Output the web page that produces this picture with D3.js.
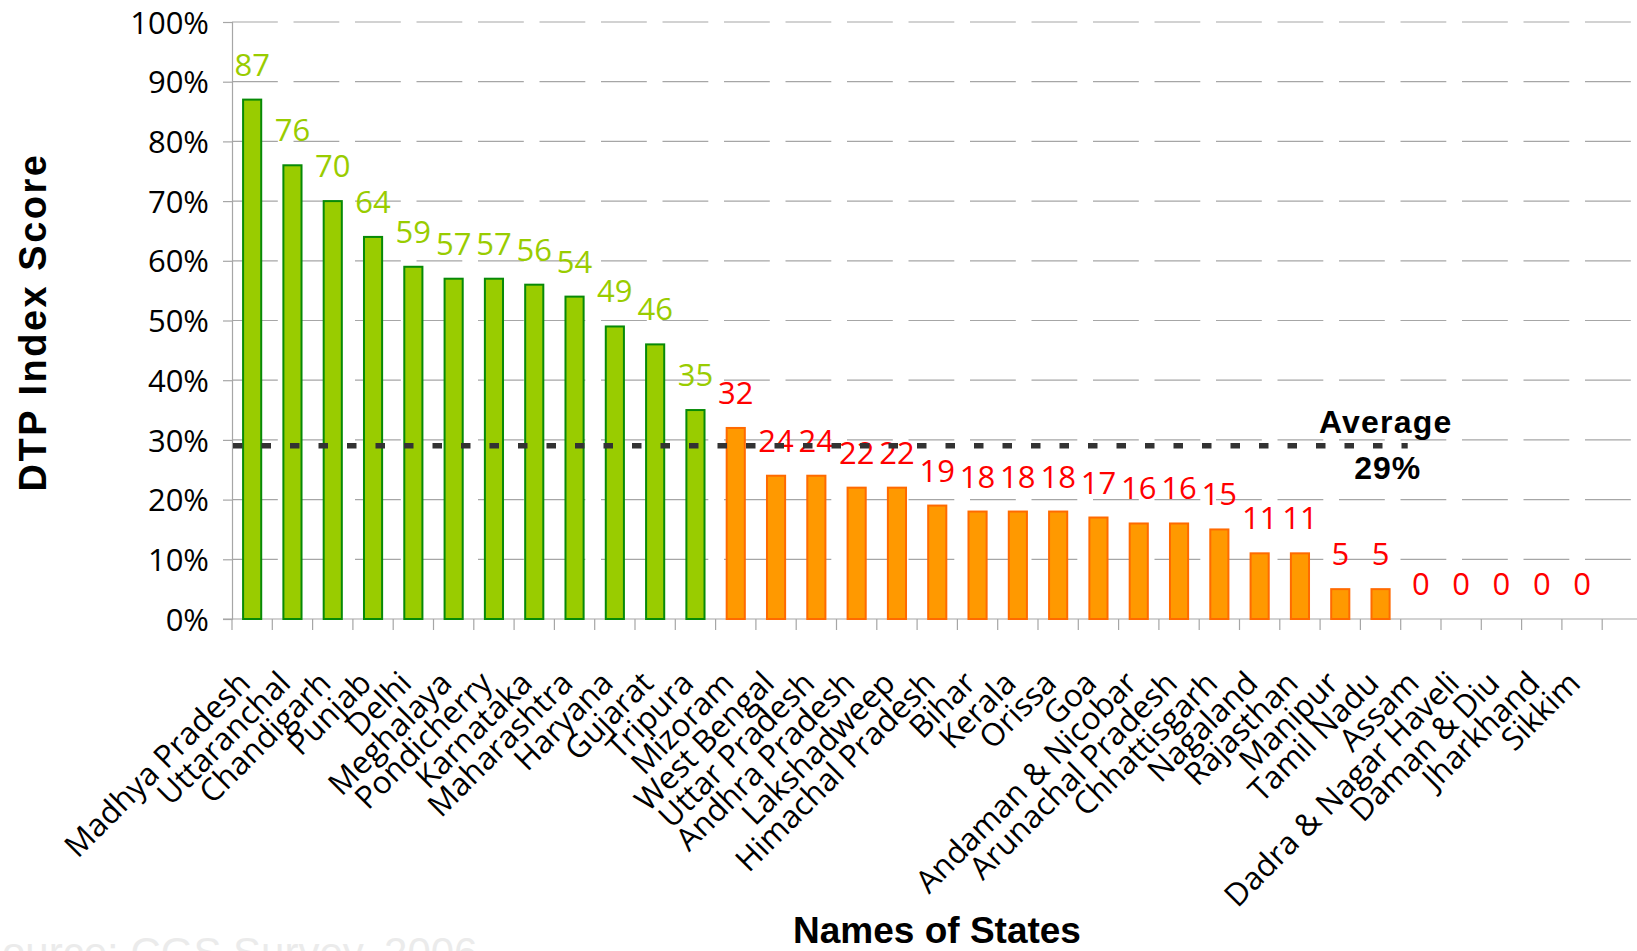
<!DOCTYPE html>
<html>
<head>
<meta charset="utf-8">
<script src="https://cdn.jsdelivr.net/npm/d3@7"></script>
<style>
  html, body { margin: 0; padding: 0; background: #fff; }
  svg { display: block; }
</style>
</head>
<body>
<svg id="chart" width="1637" height="951"></svg>
<script>
// States ranked by DTP index score
const states = [
  "Madhya Pradesh", "Uttaranchal", "Chandigarh", "Punjab", "Delhi", "Meghalaya",
  "Pondicherry", "Karnataka", "Maharashtra", "Haryana", "Gujarat", "Tripura",
  "Mizoram", "West Bengal", "Uttar Pradesh", "Andhra Pradesh", "Lakshadweep",
  "Himachal Pradesh", "Bihar", "Kerala", "Orissa", "Goa", "Andaman & Nicobar",
  "Arunachal Pradesh", "Chhattisgarh", "Nagaland", "Rajasthan", "Manipur",
  "Tamil Nadu", "Assam", "Dadra & Nagar Haveli", "Daman & Diu", "Jharkhand", "Sikkim"
];
const scores = [
  87, 76, 70, 64, 59, 57,
  57, 56, 54, 49, 46, 35,
  32, 24, 24, 22, 22,
  19, 18, 18, 18, 17, 16,
  16, 15, 11, 11, 5,
  5, 0, 0, 0, 0, 0
];
const yTicks = [0, 10, 20, 30, 40, 50, 60, 70, 80, 90, 100];
const averageScore = 29;
const topTierCutoff = 35;

const svg = d3.select("#chart");
const W = 1637;

const x = d3.scaleBand().domain(states).range([232, 1602.2]).padding(0);
const y = d3.scaleLinear().domain([0, 100]).range([619, 22]);
const bw = x.bandwidth();
const barW = bw * 0.45;

const labelFont = "'Open Sans', 'Noto Sans', sans-serif";
const titleFont = "'Liberation Sans', Arial, sans-serif";
const gridColor = "#a6a6a6";

// Horizontal gridlines (long dashes)
svg.append("g").selectAll("line")
  .data(yTicks.filter(d => d > 0))
  .join("line")
  .attr("x1", 232).attr("x2", W)
  .attr("y1", d => y(d)).attr("y2", d => y(d))
  .attr("stroke", gridColor).attr("stroke-width", 1.2)
  .attr("stroke-dasharray", "45.8,15.7");

// Y axis
const yAxis = svg.append("g")
  .attr("transform", "translate(232,0)")
  .call(d3.axisLeft(y).tickValues(yTicks).tickFormat(d => d + "%").tickSize(9).tickPadding(14));
yAxis.select(".domain").attr("stroke", gridColor).attr("stroke-width", 1.2);
yAxis.selectAll(".tick line").attr("stroke", gridColor).attr("stroke-width", 1.2);
yAxis.selectAll(".tick text")
  .attr("font-family", labelFont).attr("font-size", 31).attr("fill", "#000")
  .attr("dy", "0.36em");

// X axis baseline and category separators
svg.append("line")
  .attr("x1", 223).attr("x2", W).attr("y1", y(0)).attr("y2", y(0))
  .attr("stroke", gridColor).attr("stroke-width", 1.2);
const edges = states.map(s => x(s)).concat([x(states[states.length - 1]) + bw]);
svg.append("g").selectAll("line")
  .data(edges)
  .join("line")
  .attr("x1", d => d).attr("x2", d => d)
  .attr("y1", y(0)).attr("y2", y(0) + 11)
  .attr("stroke", gridColor).attr("stroke-width", 1.2);

// Category labels, rotated
const xAxis = svg.append("g")
  .attr("transform", `translate(0,${y(0)})`)
  .call(d3.axisBottom(x).tickSize(0).tickPadding(0));
xAxis.select(".domain").remove();
xAxis.selectAll(".tick text")
  .attr("font-family", labelFont).attr("font-size", 31.5).attr("fill", "#000")
  .attr("text-anchor", "end")
  .attr("dy", 0).attr("y", 0)
  .attr("transform", "translate(0,66) rotate(-45)");

// Bars
const data = states.map((s, i) => ({ state: s, value: scores[i] }));
const isTop = d => d.value >= topTierCutoff;
svg.append("g").selectAll("rect")
  .data(data.filter(d => d.value > 0))
  .join("rect")
  .attr("x", d => x(d.state) + (bw - barW) / 2)
  .attr("width", barW)
  .attr("y", d => y(d.value))
  .attr("height", d => y(0) - y(d.value))
  .attr("fill", d => isTop(d) ? "#99cc00" : "#ff9900")
  .attr("stroke", d => isTop(d) ? "#078a07" : "#ff6a00")
  .attr("stroke-width", 2);

// Value labels
svg.append("g").selectAll("text")
  .data(data)
  .join("text")
  .attr("x", d => x(d.state) + bw / 2)
  .attr("y", d => y(d.value) - 24)
  .attr("text-anchor", "middle")
  .attr("font-family", labelFont).attr("font-size", 31)
  .attr("fill", d => isTop(d) ? "#99cc00" : "#ff0000")
  .text(d => d.value);

// Average line
const avgEnd = x("Assam") + 7;
svg.append("line")
  .attr("x1", 233).attr("x2", avgEnd)
  .attr("y1", y(averageScore)).attr("y2", y(averageScore))
  .attr("stroke", "#333").attr("stroke-width", 5.5)
  .attr("stroke-dasharray", "9.5,19");
svg.append("text")
  .attr("x", avgEnd - 22).attr("y", 433)
  .attr("text-anchor", "middle")
  .attr("font-family", titleFont)
  .attr("font-weight", "bold").attr("font-size", 32).attr("letter-spacing", 1.2)
  .attr("fill", "#000")
  .text("Average");
svg.append("text")
  .attr("x", avgEnd - 20).attr("y", 479)
  .attr("text-anchor", "middle")
  .attr("font-family", titleFont)
  .attr("font-weight", "bold").attr("font-size", 32).attr("letter-spacing", 1)
  .attr("fill", "#000")
  .text(averageScore + "%");

// Axis titles
svg.append("text")
  .attr("transform", "translate(46,322) rotate(-90)")
  .attr("text-anchor", "middle")
  .attr("font-family", titleFont)
  .attr("font-weight", "bold").attr("font-size", 38).attr("letter-spacing", 2.5)
  .attr("fill", "#000")
  .text("DTP Index Score");
svg.append("text")
  .attr("x", 937).attr("y", 943)
  .attr("text-anchor", "middle")
  .attr("font-family", titleFont)
  .attr("font-weight", "bold").attr("font-size", 37)
  .attr("fill", "#000")
  .text("Names of States");

// Source note
svg.append("text")
  .attr("x", -26).attr("y", 967)
  .attr("font-family", titleFont)
  .attr("font-size", 42)
  .attr("fill", "#ebebeb")
  .text("Source: CGS Survey, 2006");
</script>
</body>
</html>
